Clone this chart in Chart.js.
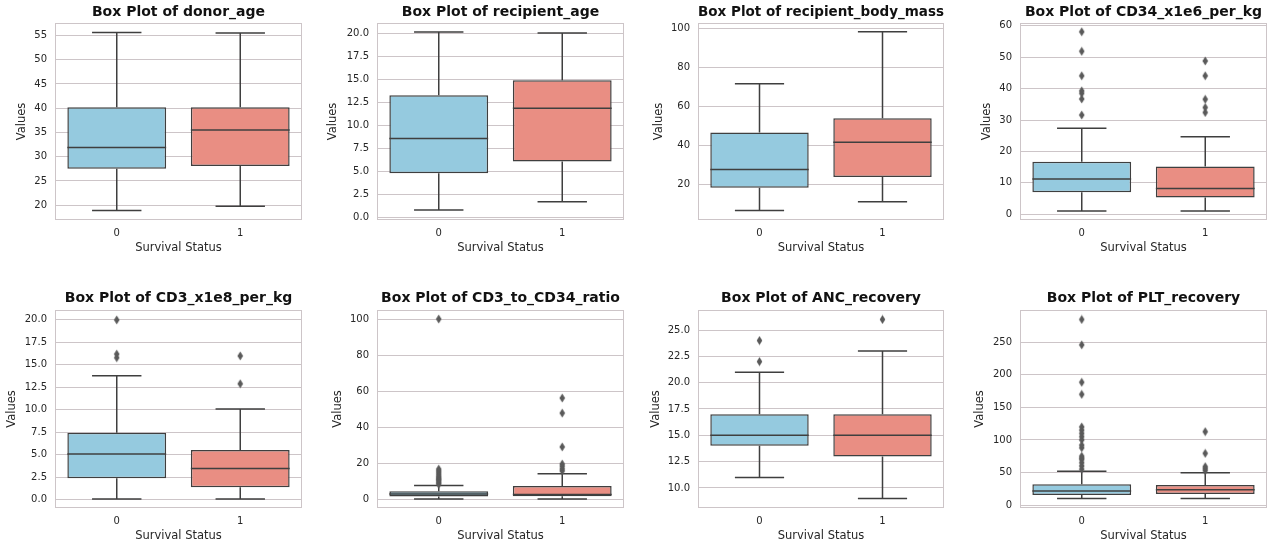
<!DOCTYPE html>
<html>
<head>
<meta charset="utf-8">
<script src="https://cdn.jsdelivr.net/npm/chart.js@4.4.1/dist/chart.umd.min.js"></script>
<style>
  html, body { margin: 0; padding: 0; background: #fff; }
  #wrap { position: relative; width: 1275px; height: 546px; overflow: hidden; }
  .panel { position: absolute; }
</style>
</head>
<body>
<div id="wrap"></div>
<script>
// data, one entry per subplot, [group 0, group 1]
const groups = ['0', '1'];
const variables = ['donor_age', 'recipient_age', 'recipient_body_mass', 'CD34_x1e6_per_kg',
                   'CD3_x1e8_per_kg', 'CD3_to_CD34_ratio', 'ANC_recovery', 'PLT_recovery'];
const whiskerLow  = [[18.9, 19.8], [0.8, 1.7], [6.7, 11.2], [1.0, 1.0], [0.1, 0.1], [0.5, 0.5], [11, 9], [10.2, 10.2]];
const q1Values    = [[27.5, 28.1], [4.8, 6.1], [18.3, 23.9], [7.0, 5.3], [2.4, 1.4], [1.9, 2.0], [14, 13], [15.4, 16.9]];
const medians     = [[31.9, 35.5], [8.6, 11.9], [27.7, 41.6], [11.2, 8.2], [5.1, 3.5], [3.3, 3.0], [15, 15], [21.5, 23.5]];
const q3Values    = [[40.2, 40.2], [13.3, 14.95], [46.7, 54.0], [16.7, 15.2], [7.45, 5.55], [4.7, 7.6], [17, 17], [31.8, 30.7]];
const whiskerHigh = [[55.6, 55.5], [20.2, 20.1], [71.6, 98.3], [27.4, 24.7], [13.8, 10.1], [8.0, 14.4], [21, 23], [52, 49.7]];
const outliers0 = [[], [], [],
  [31.6, 36.7, 38.5, 39.3, 44.1, 51.9, 58.1],
  [15.8, 16.2, 20.0],
  [8.6, 9.4, 10.2, 11.0, 11.6, 12.3, 13.0, 14.0, 15.0, 16.0, 17.0, 100],
  [22, 24],
  [55, 60, 65, 70, 72, 75, 88, 92, 100, 105, 110, 115, 120, 170, 188.5, 246, 285]];
const outliers1 = [[], [], [],
  [32.4, 34.0, 36.6, 44.1, 48.8],
  [12.9, 16.0],
  [16.0, 17.2, 18.6, 19.8, 29.3, 48.0, 56.3],
  [26],
  [53, 56, 59, 79.4, 112.7]];
const yTicks = [
  [20, 25, 30, 35, 40, 45, 50, 55],
  [0, 2.5, 5, 7.5, 10, 12.5, 15, 17.5, 20],
  [20, 40, 60, 80, 100],
  [0, 10, 20, 30, 40, 50, 60],
  [0, 2.5, 5, 7.5, 10, 12.5, 15, 17.5, 20],
  [0, 20, 40, 60, 80, 100],
  [10, 12.5, 15, 17.5, 20, 22.5, 25],
  [0, 50, 100, 150, 200, 250]];
const tickDecimals = [0, 1, 0, 0, 1, 0, 1, 0];
const yLimits = [[16.96, 57.55], [-0.28, 21.18], [1.8, 102.8], [-1.84, 60.9],
                 [-0.9, 21.1], [-4.5, 105], [8.1, 26.9], [-4.5, 299.5]];

// page layout
const cols = [[0, 318], [318, 318], [636, 319], [955, 320]];
const rows = [[0, 273], [273, 273]];
const plotRects = [
  {l: 55, r: 302, t: 23, b: 220}, {l: 377, r: 624, t: 23, b: 220},
  {l: 698, r: 944, t: 23, b: 220}, {l: 1020, r: 1267, t: 23, b: 220},
  {l: 55, r: 302, t: 310, b: 508}, {l: 377, r: 624, t: 310, b: 508},
  {l: 698, r: 944, t: 310, b: 508}, {l: 1020, r: 1267, t: 310, b: 508}];
const valuesLabelX = [22, 333, 659, 987, 12, 338, 656, 980];
const titleCenterY = [12.5, 298];

const FONT = 'DejaVu Sans';
const TEXT = '#262626';
const GRID = '#cdc5c8';
const EDGE = '#3f3f3f';
const boxColors = ['#95cadf', '#e98e83'];

// thin diamond marker like matplotlib 'd'
const diamond = document.createElement('canvas');
diamond.width = 7; diamond.height = 10;
(function(){
  const c = diamond.getContext('2d');
  c.fillStyle = '#5a5a5a';
  c.beginPath();
  c.moveTo(3.5, 0.5); c.lineTo(6.3, 5); c.lineTo(3.5, 9.5); c.lineTo(0.7, 5);
  c.closePath(); c.fill();
})();

const boxWhiskers = {
  id: 'boxWhiskers',
  beforeDatasetsDraw(chart, args, opts) {
    const {ctx, chartArea: a, scales: {y}} = chart;
    ctx.save();
    ctx.strokeStyle = GRID; ctx.lineWidth = 1;
    ctx.strokeRect(a.left + 0.5, a.top + 0.5, a.right - a.left - 1, a.bottom - a.top - 1);
    ctx.strokeStyle = EDGE; ctx.lineWidth = 1.5;
    chart.getDatasetMeta(0).data.forEach((bar, k) => {
      const cap = bar.width / 4;
      const yLow = y.getPixelForValue(opts.low[k]), yHigh = y.getPixelForValue(opts.high[k]);
      const yQ1 = y.getPixelForValue(opts.q1[k]), yQ3 = y.getPixelForValue(opts.q3[k]);
      ctx.beginPath();
      ctx.moveTo(bar.x, yQ1); ctx.lineTo(bar.x, yLow);
      ctx.moveTo(bar.x - cap, yLow); ctx.lineTo(bar.x + cap, yLow);
      ctx.moveTo(bar.x, yQ3); ctx.lineTo(bar.x, yHigh);
      ctx.moveTo(bar.x - cap, yHigh); ctx.lineTo(bar.x + cap, yHigh);
      ctx.stroke();
    });
    ctx.restore();
  },
  afterDatasetDraw(chart, args, opts) {
    if (args.index !== 0) return;
    const {ctx, scales: {y}} = chart;
    ctx.save();
    ctx.strokeStyle = EDGE; ctx.lineWidth = 1.5;
    args.meta.data.forEach((bar, k) => {
      const yM = y.getPixelForValue(opts.med[k]);
      ctx.beginPath();
      ctx.moveTo(bar.x - bar.width / 2, yM); ctx.lineTo(bar.x + bar.width / 2, yM);
      ctx.stroke();
    });
    ctx.restore();
  }
};

const wrap = document.getElementById('wrap');
variables.forEach(function(name, i){
  const col = i % 4, row = Math.floor(i / 4);
  const [cx, cw] = cols[col];
  const [ry, rh] = rows[row];
  const p = plotRects[i];

  const div = document.createElement('div');
  div.className = 'panel';
  div.style.left = cx + 'px'; div.style.top = ry + 'px';
  const canvas = document.createElement('canvas');
  canvas.width = cw; canvas.height = rh;
  div.appendChild(canvas); wrap.appendChild(div);

  const padLeft = valuesLabelX[i] - cx - 8.9;
  const yW = p.l - cx - padLeft;
  const xH = 35;
  const titleTop = titleCenterY[row] - ry - 8.4;
  const titleBottom = p.t - ry - titleTop - 16.8;

  const outlierPts = outliers0[i].map(v => ({x: groups[0], y: v}))
    .concat(outliers1[i].map(v => ({x: groups[1], y: v})));

  new Chart(canvas, {
    type: 'bar',
    data: {
      labels: groups,
      datasets: [
        { data: groups.map((g, k) => [q1Values[i][k], q3Values[i][k]]),
          backgroundColor: boxColors, borderColor: EDGE, borderWidth: 1.5, borderSkipped: false,
          barPercentage: 0.8, categoryPercentage: 1, order: 1 },
        { type: 'scatter', data: outlierPts, pointStyle: diamond, pointRadius: 4, order: 0 }
      ]
    },
    options: {
      responsive: false,
      animation: false,
      layout: { padding: { left: padLeft, right: cx + cw - p.r, top: 0, bottom: ry + rh - p.b - xH } },
      plugins: {
        legend: { display: false },
        tooltip: { enabled: false },
        title: { display: true, text: 'Box Plot of ' + name, fullSize: false, color: '#111',
                 font: { family: FONT, size: 14, weight: 'bold', lineHeight: 1.2 },
                 padding: { top: titleTop, bottom: titleBottom } },
        boxWhiskers: { low: whiskerLow[i], high: whiskerHigh[i], q1: q1Values[i], q3: q3Values[i], med: medians[i] }
      },
      scales: {
        x: {
          grid: { display: false, drawTicks: false },
          border: { display: false },
          ticks: { color: TEXT, font: { family: FONT, size: 10 }, padding: 7 },
          title: { display: true, text: 'Survival Status', color: TEXT,
                   font: { family: FONT, size: 11.5, lineHeight: 1.2 }, padding: { top: 2, bottom: 0 } },
          afterFit: s => { s.height = xH; }
        },
        y: {
          min: yLimits[i][0], max: yLimits[i][1],
          grid: { color: GRID, lineWidth: 1, drawTicks: false },
          border: { display: false },
          ticks: { color: TEXT, font: { family: FONT, size: 10 }, padding: 8,
                   callback: v => v.toFixed(tickDecimals[i]) },
          afterBuildTicks: s => { s.ticks = yTicks[i].map(v => ({value: v})); },
          title: { display: true, text: 'Values', color: TEXT,
                   font: { family: FONT, size: 11.5, lineHeight: 1.2 }, padding: { top: 2, bottom: 0 } },
          afterFit: s => { s.width = yW; }
        }
      }
    },
    plugins: [boxWhiskers]
  });
});
</script>
</body>
</html>
